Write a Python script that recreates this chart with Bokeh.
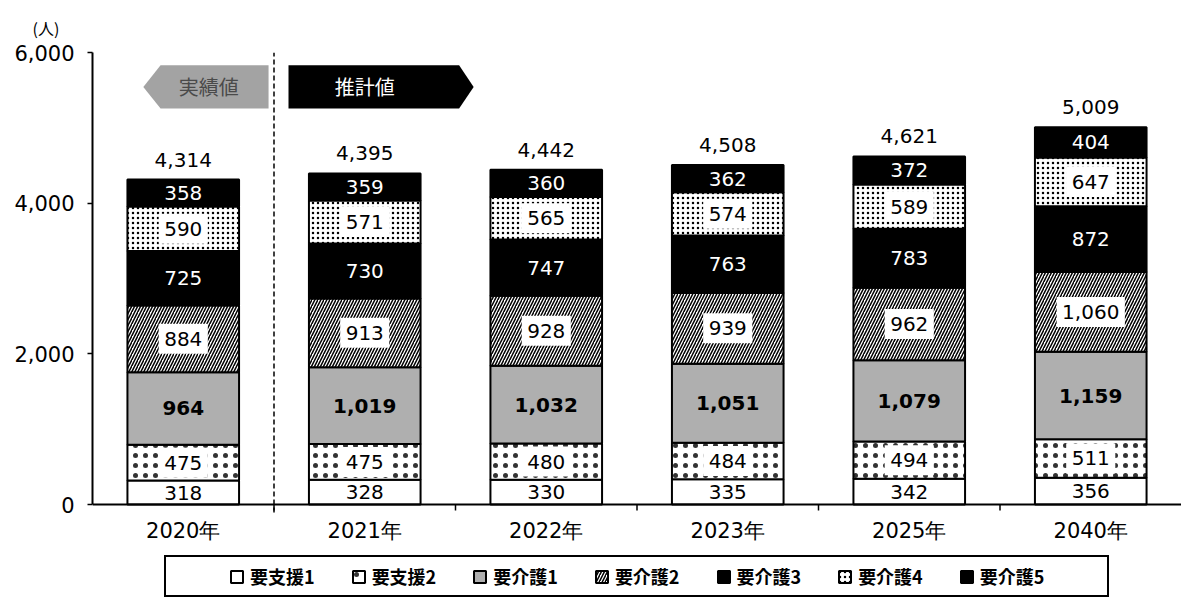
import numpy as np
from bokeh.plotting import figure
from bokeh.models import (ColumnDataSource, LabelSet, Legend, LegendItem,
                          FixedTicker, Range1d)
from bokeh.embed import file_html
from bokeh.resources import INLINE
from bokeh.core.properties import value

# ---- data ----
years = ["2020年", "2021年", "2022年", "2023年", "2025年", "2040年"]
levels = ["要支援1", "要支援2", "要介護1", "要介護2", "要介護3", "要介護4", "要介護5"]
shien1 = [318, 328, 330, 335, 342, 356]
shien2 = [475, 475, 480, 484, 494, 511]
kaigo1 = [964, 1019, 1032, 1051, 1079, 1159]
kaigo2 = [884, 913, 928, 939, 962, 1060]
kaigo3 = [725, 730, 747, 763, 783, 872]
kaigo4 = [590, 571, 565, 574, 589, 647]
kaigo5 = [358, 359, 360, 362, 372, 404]
totals = [4314, 4395, 4442, 4508, 4621, 5009]
y_ticks = [0, 2000, 4000, 6000]
phase_labels = ["実績値", "推計値"]
y_unit = "(人)"

series = [shien1, shien2, kaigo1, kaigo2, kaigo3, kaigo4, kaigo5]
keys = ["s1", "s2", "k1", "k2", "k3", "k4", "k5"]

# ---- layout / styles ----
NUM_FONT = "DejaVu Sans"
JP_FONT = "Noto Sans CJK JP"
FRAME_W, FRAME_H = 1089, 545        # plot area; the lower 93 px hold the category labels and legend
Y_MAX = 6000
PX_PER_UNIT = 452 / Y_MAX
Y_MIN = -93 / PX_PER_UNIT
fills = ["white", "white", "#afafaf", "white", "black", "white", "black"]
hatches = [" ", "dot", " ", "right_diagonal_line", " ", "dot", " "]
hatch_scales = [12, 10, 12, 6, 12, 5, 12]
hatch_weights = [1, 0.5, 1, 1.5, 1, 1.3, 1]
hatch_alphas = [1, 0.8, 1, 1, 1, 1, 1]
text_colors = ["black", "black", "black", "black", "white", "black", "white"]
text_styles = ["normal", "normal", "bold", "normal", "normal", "normal", "normal"]
boxed = [False, True, False, True, False, True, False]

xs = [i + 0.5 for i in range(len(years))]
bounds_x = list(range(1, len(years)))
data = {"x": xs}
for k, s in zip(keys, series):
    data[k] = s
src = ColumnDataSource(data)

p = figure(frame_width=FRAME_W, frame_height=FRAME_H,
           x_range=Range1d(0, len(years)), y_range=Range1d(Y_MIN, Y_MAX),
           output_backend="svg", toolbar_location=None,
           min_border_left=92, min_border_right=0, min_border_top=52, min_border_bottom=0)
p.outline_line_color = None
p.grid.visible = False
p.background_fill_color = "white"
p.xaxis.visible = False

# unit caption above the y axis
p.title.text = y_unit
p.title.align = "left"
p.title.offset = -60
p.title.standoff = 26
p.title.text_font = JP_FONT
p.title.text_font_size = "16px"
p.title.text_font_style = "normal"
p.title.text_color = "black"

rends = p.vbar_stack(keys, x="x", width=0.615, source=src,
                     fill_color=fills, line_color="black", line_width=2,
                     hatch_pattern=hatches, hatch_color="black",
                     hatch_scale=hatch_scales, hatch_weight=hatch_weights,
                     hatch_alpha=hatch_alphas)

# segment labels
cum = np.zeros(len(years))
for i, s in enumerate(series):
    s = np.array(s, dtype=float)
    mids = cum + s / 2
    cum = cum + s
    txt = [f"{int(v):,}" for v in s]
    if boxed[i]:
        widths = [sum(12.7 if c.isdigit() else 6.4 for c in t) + 11 for t in txt]
        bsrc = ColumnDataSource(dict(x=xs, y=list(mids), w=widths))
        p.rect(x="x", y="y", width="w", height=30, width_units="screen",
               height_units="screen", source=bsrc, fill_color="white",
               line_color=None)
    lsrc = ColumnDataSource(dict(x=xs, y=list(mids), t=txt))
    p.add_layout(LabelSet(x="x", y="y", text="t", source=lsrc,
                          text_align="center", text_baseline="middle",
                          text_font=value(NUM_FONT), text_font_size="20px",
                          text_font_style=text_styles[i],
                          text_color=text_colors[i]))

# totals
tsrc = ColumnDataSource(dict(x=xs, y=totals, t=[f"{v:,}" for v in totals]))
p.add_layout(LabelSet(x="x", y="y", text="t", source=tsrc, text_align="center",
                      text_baseline="bottom", y_offset=13,
                      text_font=value(NUM_FONT), text_font_size="20px",
                      text_color="black"))

# category axis: baseline, boundary ticks and labels
p.segment(x0=0, y0=0, x1=len(years), y1=0, line_color="black", line_width=2)
p.segment(x0=bounds_x, y0=0, x1=bounds_x, y1=-6 / PX_PER_UNIT,
          line_color="black", line_width=1.5)
p.text(x=xs, y=-26 / PX_PER_UNIT, text=years, text_align="center",
       text_baseline="middle", text_font=value(NUM_FONT), text_font_size="21px",
       text_color="black")

# divider between actual and estimate
p.segment(x0=1, y0=-8 / PX_PER_UNIT, x1=1, y1=Y_MAX, line_color="black",
          line_width=1.5, line_dash="5 3")

# phase arrows
arrow_top, arrow_bot = 5830, 5255
arrow_mid = (arrow_top + arrow_bot) / 2
gray_x = (0.28, 0.375, 0.97)    # tip, body start, body end
black_x = (1.08, 2.02, 2.10)    # body start, body end, tip
p.patch([gray_x[0], gray_x[1], gray_x[2], gray_x[2], gray_x[1]],
        [arrow_mid, arrow_top, arrow_top, arrow_bot, arrow_bot],
        fill_color="#a3a3a3", line_color=None)
p.patch([black_x[0], black_x[1], black_x[2], black_x[1], black_x[0]],
        [arrow_top, arrow_top, arrow_mid, arrow_bot, arrow_bot],
        fill_color="black", line_color=None)
p.text(x=[0.64, 1.5], y=[arrow_mid, arrow_mid], text=phase_labels,
       text_color=["#4a4a4a", "white"], text_align="center",
       text_baseline="middle", text_font=value(JP_FONT), text_font_size="20px")

# value axis
ya = p.yaxis[0]
ya.ticker = FixedTicker(ticks=y_ticks)
ya.bounds = (0, Y_MAX)
ya.major_label_overrides = {t: f"{t:,}" for t in y_ticks}
ya.major_label_text_font = NUM_FONT
ya.major_label_text_font_size = "21px"
ya.major_label_text_color = "black"
ya.major_tick_out = 5
ya.major_tick_in = 0
ya.minor_tick_out = 0
ya.minor_tick_in = 0
ya.major_label_standoff = 13
ya.axis_line_width = 2
ya.major_tick_line_width = 1.5

# legend below the category labels, with invisible spacer items widening its frame
spacer = p.vbar(x=[], top=[], width=0.1, fill_alpha=0, line_alpha=0)
items = [LegendItem(label=" ", renderers=[spacer])]
items += [LegendItem(label=levels[i], renderers=[rends[i]]) for i in range(7)]
items += [LegendItem(label=" ", renderers=[spacer])]
legend = Legend(items=items,
                orientation="horizontal", location=(72, 0),
                border_line_color="black", border_line_width=2, border_line_alpha=1,
                label_text_font=JP_FONT, label_text_font_size="18px",
                label_text_font_style="bold", label_text_color="black",
                glyph_width=15, glyph_height=15, label_standoff=6,
                label_width=0, spacing=36, padding=6, margin=0)
p.add_layout(legend)

open("out.html", "w").write(file_html(p, INLINE))
